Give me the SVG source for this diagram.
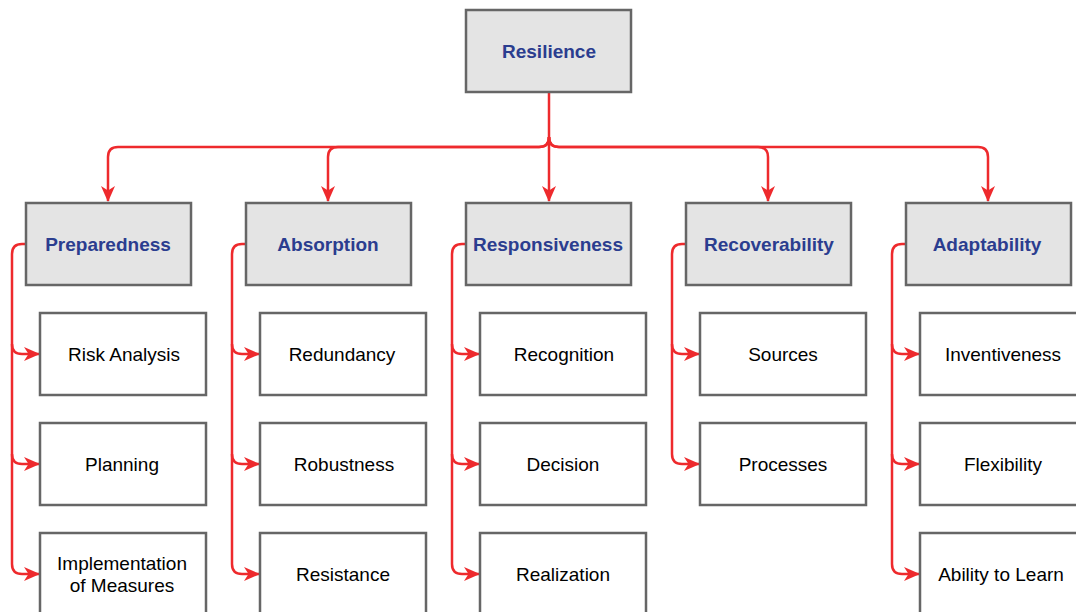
<svg xmlns="http://www.w3.org/2000/svg" width="1076" height="612" viewBox="0 0 1076 612">
<style>
.top{fill:#e4e4e4;stroke:#666;stroke-width:2.5}
.leaf{fill:#fff;stroke:#666;stroke-width:2.5}
.ht{font-family:"Liberation Sans",Arial,sans-serif;font-weight:bold;font-size:19px;fill:#2b3d8f;text-anchor:middle}
.lt{font-family:"Liberation Sans",Arial,sans-serif;font-size:19px;fill:#000;text-anchor:middle}
.c{fill:none;stroke:#ee2a2d;stroke-width:2.5}
.a{marker-end:url(#arr)}
</style>
<defs>
<marker id="arr" viewBox="0 0 16 16" refX="15" refY="8" markerWidth="16" markerHeight="16" markerUnits="userSpaceOnUse" orient="auto">
<path d="M0,1 L16,8 L0,15 L4.5,8 z" fill="#ee2a2d"/>
</marker>
</defs>
<g id="connectors">
<path class="c a" d="M549,92 V201"/>
<path class="c a" d="M549,137 Q549,147 539,147 H118 Q108,147 108,157 V201"/>
<path class="c a" d="M549,137 Q549,147 539,147 H338 Q328,147 328,157 V201"/>
<path class="c a" d="M549,137 Q549,147 559,147 H758 Q768,147 768,157 V201"/>
<path class="c a" d="M549,137 Q549,147 559,147 H978 Q988,147 988,157 V201"/>
<path class="c a" d="M26,244 H22 Q12,244 12,254 V564 Q12,574 22,574 H39"/>
<path class="c a" d="M12,344 Q12,354 22,354 H39"/>
<path class="c a" d="M12,454 Q12,464 22,464 H39"/>
<path class="c a" d="M246,244 H242 Q232,244 232,254 V564 Q232,574 242,574 H259"/>
<path class="c a" d="M232,344 Q232,354 242,354 H259"/>
<path class="c a" d="M232,454 Q232,464 242,464 H259"/>
<path class="c a" d="M466,244 H462 Q452,244 452,254 V564 Q452,574 462,574 H479"/>
<path class="c a" d="M452,344 Q452,354 462,354 H479"/>
<path class="c a" d="M452,454 Q452,464 462,464 H479"/>
<path class="c a" d="M686,244 H682 Q672,244 672,254 V454 Q672,464 682,464 H699"/>
<path class="c a" d="M672,344 Q672,354 682,354 H699"/>
<path class="c a" d="M906,244 H902 Q892,244 892,254 V564 Q892,574 902,574 H919"/>
<path class="c a" d="M892,344 Q892,354 902,354 H919"/>
<path class="c a" d="M892,454 Q892,464 902,464 H919"/>
</g>
<g id="resilience"><rect class="top" x="466" y="10" width="165" height="82"/><text class="ht" x="549" y="58">Resilience</text></g>
<g id="preparedness"><rect class="top" x="26" y="203" width="165" height="82"/><text class="ht" x="108" y="251">Preparedness</text></g>
<g id="absorption"><rect class="top" x="246" y="203" width="165" height="82"/><text class="ht" x="328" y="251">Absorption</text></g>
<g id="responsiveness"><rect class="top" x="466" y="203" width="165" height="82"/><text class="ht" x="548" y="251">Responsiveness</text></g>
<g id="recoverability"><rect class="top" x="686" y="203" width="165" height="82"/><text class="ht" x="769" y="251">Recoverability</text></g>
<g id="adaptability"><rect class="top" x="906" y="203" width="165" height="82"/><text class="ht" x="987" y="251">Adaptability</text></g>

<g id="risk-analysis"><rect class="leaf" x="40" y="313" width="166" height="82"/><text class="lt" x="124" y="361">Risk Analysis</text></g>
<g id="planning"><rect class="leaf" x="40" y="423" width="166" height="82"/><text class="lt" x="122" y="471">Planning</text></g>
<g id="implementation"><rect class="leaf" x="40" y="533" width="166" height="82"/><text class="lt" x="122" y="570">Implementation</text><text class="lt" x="122" y="592">of Measures</text></g>

<g id="redundancy"><rect class="leaf" x="260" y="313" width="166" height="82"/><text class="lt" x="342" y="361">Redundancy</text></g>
<g id="robustness"><rect class="leaf" x="260" y="423" width="166" height="82"/><text class="lt" x="344" y="471">Robustness</text></g>
<g id="resistance"><rect class="leaf" x="260" y="533" width="166" height="82"/><text class="lt" x="343" y="581">Resistance</text></g>

<g id="recognition"><rect class="leaf" x="480" y="313" width="166" height="82"/><text class="lt" x="564" y="361">Recognition</text></g>
<g id="decision"><rect class="leaf" x="480" y="423" width="166" height="82"/><text class="lt" x="563" y="471">Decision</text></g>
<g id="realization"><rect class="leaf" x="480" y="533" width="166" height="82"/><text class="lt" x="563" y="581">Realization</text></g>

<g id="sources"><rect class="leaf" x="700" y="313" width="166" height="82"/><text class="lt" x="783" y="361">Sources</text></g>
<g id="processes"><rect class="leaf" x="700" y="423" width="166" height="82"/><text class="lt" x="783" y="471">Processes</text></g>

<g id="inventiveness"><rect class="leaf" x="920" y="313" width="166" height="82"/><text class="lt" x="1003" y="361">Inventiveness</text></g>
<g id="flexibility"><rect class="leaf" x="920" y="423" width="166" height="82"/><text class="lt" x="1003" y="471">Flexibility</text></g>
<g id="ability-to-learn"><rect class="leaf" x="920" y="533" width="166" height="82"/><text class="lt" x="1001" y="581">Ability to Learn</text></g>
</svg>
